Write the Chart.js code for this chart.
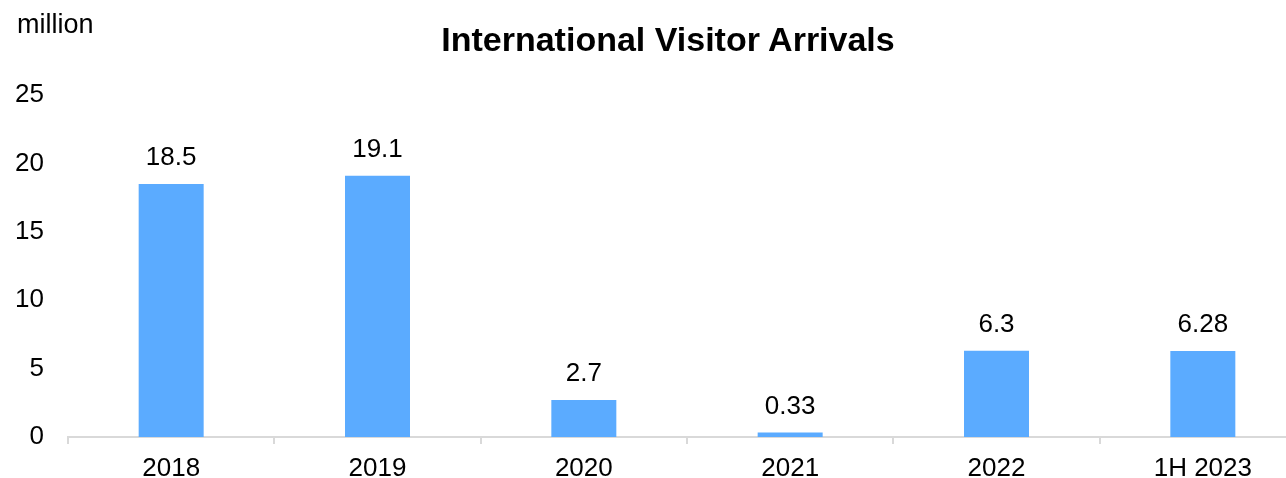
<!DOCTYPE html>
<html lang="en">
<head>
  <meta charset="UTF-8" />
  <title>International Visitor Arrivals</title>
  <script src="https://cdn.jsdelivr.net/npm/chart.js"></script>
  <style>
    html,body{margin:0;padding:0;background:#fff;overflow:hidden;}
    .wrap{position:relative;width:1306px;height:478px;font-family:"Liberation Sans",Arial,sans-serif;color:#000;}
    .unit{position:absolute;left:17px;top:11px;font-size:27px;line-height:1;}
    .title{position:absolute;left:668px;top:22px;transform:translateX(-50%);font-size:34px;font-weight:700;line-height:1;white-space:nowrap;}
  </style>
</head>
<body>
  <div class="wrap">
    <canvas id="arrivals" width="1306" height="478"></canvas>
    <div class="unit">million</div>
    <div class="title">International Visitor Arrivals</div>
  </div>

<script>
  // data
  const years = ['2018','2019','2020','2021','2022','1H 2023'];
  const arrivals = [18.5, 19.1, 2.7, 0.33, 6.3, 6.28];
  const yTicks = [0, 5, 10, 15, 20, 25];

  const FONT = '"Liberation Sans", Arial, sans-serif';

  // value labels above each bar
  const valueLabels = {
    id: 'valueLabels',
    afterDatasetsDraw(chart) {
      const ctx = chart.ctx;
      const meta = chart.getDatasetMeta(0);
      ctx.save();
      ctx.font = '26px ' + FONT;
      ctx.fillStyle = '#000';
      ctx.textAlign = 'center';
      ctx.textBaseline = 'bottom';
      meta.data.forEach((bar, i) => {
        ctx.fillText(String(arrivals[i]), bar.x, bar.y - 13);
      });
      ctx.restore();
    }
  };

  new Chart(document.getElementById('arrivals'), {
    type: 'bar',
    data: {
      labels: years,
      datasets: [{
        data: arrivals,
        backgroundColor: '#5babff',
        borderWidth: 0,
        barPercentage: 0.315,
        categoryPercentage: 1
      }]
    },
    options: {
      responsive: false,
      animation: false,
      devicePixelRatio: 1,
      layout: { padding: { top: 95, left: 0, right: 0, bottom: 0 } },
      plugins: { legend: { display: false }, title: { display: false }, tooltip: { enabled: false } },
      scales: {
        x: {
          grid: { display: true, drawOnChartArea: false, drawTicks: true, tickLength: 7, color: '#d9d9d9', lineWidth: 2, offset: true },
          border: { display: true, color: '#d9d9d9', width: 2 },
          ticks: { color: '#000', font: { family: FONT, size: 26 }, padding: 9, maxRotation: 0, autoSkip: false },
          afterFit(scale) { scale.height = 41; }
        },
        y: {
          min: 0,
          max: 25,
          grid: { display: false },
          border: { display: false },
          afterBuildTicks(scale) { scale.ticks = yTicks.map(v => ({ value: v })); },
          ticks: { color: '#000', font: { family: FONT, size: 26 }, padding: 16 },
          afterFit(scale) { scale.width = 68; }
        }
      }
    },
    plugins: [valueLabels]
  });
</script>
</body>
</html>
